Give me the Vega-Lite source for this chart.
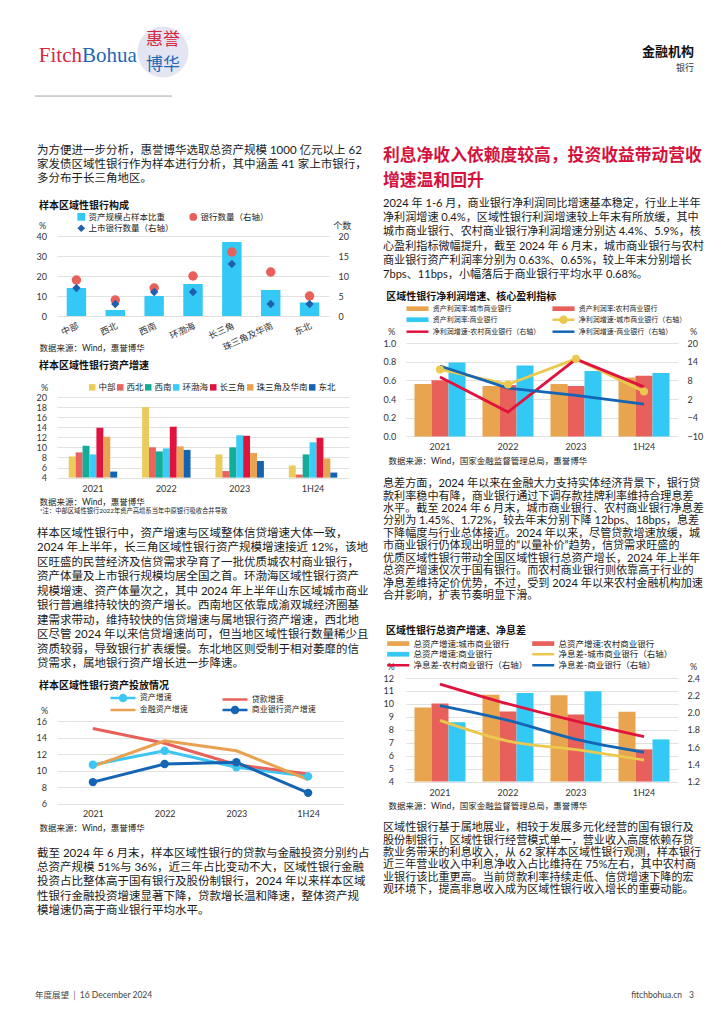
{
"$schema": "https://vega.github.io/schema/vega-lite/v6.json",
"background": "#ffffff",
"padding": {"left": 34, "top": 0, "right": 0, "bottom": 0},
"spacing": 0,
"resolve": {"scale": {"color": "independent", "xOffset": "independent"}, "legend": {"color": "independent"}},
"config": {
  "font": "Lato, 'Noto Sans CJK SC', sans-serif",
  "view": {"stroke": null},
  "title": {"anchor": "start", "fontSize": 10, "fontWeight": "bold", "color": "#111111", "offset": 3, "dx": 3},
  "axis": {"labelFontSize": 9, "labelColor": "#333333", "domain": false, "ticks": false, "grid": false, "titleFontSize": 9, "titleFontWeight": "normal", "titleColor": "#333333"},
  "axisY": {"grid": true, "gridColor": "#D9D9D9", "gridWidth": 0.8},
  "legend": {"labelFontSize": 8, "labelColor": "#222222", "symbolStrokeWidth": 2.5, "labelOffset": 3, "padding": 0, "rowPadding": 2, "orient": "none"}
},
"vconcat": [
  {
    "width": 660, "height": 144,
    "layer": [
      {"data": {"values": [{"part": "line"}]}, "mark": {"type": "rule", "color": "#A6A6A6", "strokeWidth": 1},
       "encoding": {"x": {"datum": -3.33, "scale": {"domain": [0, 100]}, "axis": null}, "x2": {"datum": 17.42}, "y": {"datum": 66.7, "scale": {"domain": [0, 100], "reverse": true}, "axis": null}}},
      {"data": {"values": [{"part": "seal"}]}, "mark": {"type": "point", "filled": true, "size": 2600, "color": "#E3E6F2", "opacity": 1},
       "encoding": {"x": {"datum": 16.06, "scale": {"domain": [0, 100]}, "axis": null}, "y": {"datum": 36.1, "scale": {"domain": [0, 100], "reverse": true}, "axis": null}}},
      {"data": {"values": [{"t": "Fitch"}]}, "mark": {"type": "text", "align": "right", "baseline": "alphabetic", "font": "Liberation Serif", "fontSize": 21, "color": "#D7263D"},
       "encoding": {"x": {"datum": 3.79, "scale": {"domain": [0, 100]}, "axis": null}, "y": {"datum": 43.06, "scale": {"domain": [0, 100], "reverse": true}, "axis": null}, "text": {"field": "t"}}},
      {"data": {"values": [{"t": "Bohua"}]}, "mark": {"type": "text", "align": "left", "baseline": "alphabetic", "font": "Liberation Serif", "fontSize": 21, "color": "#2368B5"},
       "encoding": {"x": {"datum": 3.79, "scale": {"domain": [0, 100]}, "axis": null}, "y": {"datum": 43.06, "scale": {"domain": [0, 100], "reverse": true}, "axis": null}, "text": {"field": "t"}}},
      {"data": {"values": [{"t": "惠誉"}]}, "mark": {"type": "text", "align": "center", "baseline": "middle", "font": "Noto Sans CJK SC", "fontSize": 17, "color": "#D7263D"},
       "encoding": {"x": {"datum": 16.06, "scale": {"domain": [0, 100]}, "axis": null}, "y": {"datum": 27.5, "scale": {"domain": [0, 100], "reverse": true}, "axis": null}, "text": {"field": "t"}}},
      {"data": {"values": [{"t": "博华"}]}, "mark": {"type": "text", "align": "center", "baseline": "middle", "font": "Noto Sans CJK SC", "fontSize": 17, "color": "#2368B5"},
       "encoding": {"x": {"datum": 16.06, "scale": {"domain": [0, 100]}, "axis": null}, "y": {"datum": 44.8, "scale": {"domain": [0, 100], "reverse": true}, "axis": null}, "text": {"field": "t"}}},
      {"data": {"values": [{"t": "金融机构"}]}, "mark": {"type": "text", "align": "right", "baseline": "middle", "font": "Noto Sans CJK SC", "fontSize": 13, "fontWeight": "bold", "color": "#111111"},
       "encoding": {"x": {"datum": 96.5, "scale": {"domain": [0, 100]}, "axis": null}, "y": {"datum": 36.1, "scale": {"domain": [0, 100], "reverse": true}, "axis": null}, "text": {"field": "t"}}},
      {"data": {"values": [{"t": "银行"}]}, "mark": {"type": "text", "align": "right", "baseline": "middle", "font": "Noto Sans CJK SC", "fontSize": 9, "color": "#333333"},
       "encoding": {"x": {"datum": 96.5, "scale": {"domain": [0, 100]}, "axis": null}, "y": {"datum": 47.2, "scale": {"domain": [0, 100], "reverse": true}, "axis": null}, "text": {"field": "t"}}}
    ]
  },
  {
    "spacing": 12,
    "resolve": {"scale": {"color": "independent", "xOffset": "independent"}, "legend": {"color": "independent"}},
    "hconcat": [
      {
        "spacing": 0,
        "resolve": {"scale": {"color": "independent", "xOffset": "independent"}, "legend": {"color": "independent"}},
        "vconcat": [
          {
            "width": 305, "height": 57,
            "data": {"values": [{"text": "为方便进一步分析，惠誉博华选取总资产规模 1000 亿元以上 62\n家发债区域性银行作为样本进行分析，其中涵盖 41 家上市银行，\n多分布于长三角地区。"}]},
            "mark": {"type": "text", "align": "left", "baseline": "line-top", "lineBreak": "\n", "lineHeight": 14, "fontSize": 11.5, "color": "#1a1a1a"},
            "encoding": {"x": {"datum": -0.0656, "scale": {"domain": [0, 1]}, "axis": null}, "y": {"datum": 0, "scale": {"domain": [0, 57], "reverse": true}, "axis": null}, "text": {"field": "text"}}
          },
          {
            "width": 272, "height": 80,
            "title": {"text": "样本区域性银行构成", "offset": 1.5},
            "data": {"values": [
              {"region": "中部", "share": 14, "banks": 9, "listed": 7},
              {"region": "西北", "share": 3, "banks": 4, "listed": 3},
              {"region": "西南", "share": 10, "banks": 7, "listed": 6},
              {"region": "环渤海", "share": 16, "banks": 10, "listed": 6},
              {"region": "长三角", "share": 37, "banks": 16, "listed": 13},
              {"region": "珠三角及华南", "share": 13, "banks": 11, "listed": 3},
              {"region": "东北", "share": 6.8, "banks": 5, "listed": 3}
            ]},
            "encoding": {"x": {"field": "region", "type": "nominal", "sort": null, "scale": {"paddingInner": 0.5, "paddingOuter": 0.25}, "axis": {"labelAngle": -25, "labelAlign": "right", "labelBaseline": "top", "labelPadding": 5, "title": "数据来源：Wind，惠誉博华", "titleX": -18, "titleY": 31, "titleAlign": "left", "titleBaseline": "middle", "titleFontSize": 8.5, "titleColor": "#222222"}}},
            "layer": [
              {"mark": {"type": "bar"},
               "encoding": {
                 "y": {"field": "share", "type": "quantitative", "scale": {"domain": [0, 40]}, "axis": {"values": [0, 10, 20, 30, 40], "title": "%", "titleAngle": 0, "titleAlign": "center", "titleBaseline": "middle", "titleX": -15, "titleY": -11, "labelPadding": 10.6}},
                 "color": {"datum": "资产规模占样本比重", "scale": {"domain": ["资产规模占样本比重", "银行数量（右轴）", "上市银行数量（右轴）"], "range": ["#34C8F5", "#E8605A", "#1F5FAD"]},
                   "legend": {"title": null, "orient": "none", "legendX": 20, "legendY": -23.5, "columns": 2, "direction": "horizontal", "symbolSize": 60, "symbolStrokeWidth": 0, "labelFontSize": 8.5, "columnPadding": 15, "rowPadding": 2.5,
                     "symbolType": {"expr": "datum.value === '资产规模占样本比重' ? 'square' : (datum.value === '银行数量（右轴）' ? 'circle' : 'diamond')"}}}
               }},
              {"mark": {"type": "point", "shape": "circle", "filled": true, "size": 90, "opacity": 1},
               "encoding": {
                 "y": {"field": "banks", "type": "quantitative", "scale": {"domain": [0, 20]}, "axis": {"orient": "right", "values": [0, 5, 10, 15, 20], "grid": false, "title": "个数", "titleAngle": 0, "titleAlign": "center", "titleBaseline": "middle", "titleX": 12.7, "titleY": -11, "labelPadding": 9}},
                 "color": {"datum": "银行数量（右轴）"}
               }},
              {"mark": {"type": "point", "shape": "diamond", "filled": true, "size": 70, "opacity": 1},
               "encoding": {
                 "y": {"field": "listed", "type": "quantitative", "scale": {"domain": [0, 20]}, "axis": null},
                 "color": {"datum": "上市银行数量（右轴）"}
               }}
            ],
            "resolve": {"scale": {"y": "independent"}}
          },
          {
            "width": 305, "height": 9,
            "data": {"values": [{"text": ""}]},
            "mark": {"type": "text", "align": "left", "baseline": "middle", "fontSize": 8.5, "color": "#222222"},
            "encoding": {"x": {"datum": 0, "scale": {"domain": [0, 1]}, "axis": null}, "y": {"datum": 4, "scale": {"domain": [0, 9], "reverse": true}, "axis": null}, "text": {"field": "text"}}
          },
          {
            "width": 292, "height": 80.6,
            "title": {"text": "样本区域性银行资产增速", "offset": 11.7},
            "data": {"values": [
              {"period": "2021", "region": "中部", "growth": 8.2},
              {"period": "2021", "region": "西北", "growth": 9.0},
              {"period": "2021", "region": "西南", "growth": 10.3},
              {"period": "2021", "region": "环渤海", "growth": 8.6},
              {"period": "2021", "region": "长三角", "growth": 13.9},
              {"period": "2021", "region": "珠三角及华南", "growth": 12.1},
              {"period": "2021", "region": "东北", "growth": 5.2},
              {"period": "2022", "region": "中部", "growth": 18.0},
              {"period": "2022", "region": "西北", "growth": 10.0},
              {"period": "2022", "region": "西南", "growth": 9.2},
              {"period": "2022", "region": "环渤海", "growth": 9.8},
              {"period": "2022", "region": "长三角", "growth": 14.1},
              {"period": "2022", "region": "珠三角及华南", "growth": 10.2},
              {"period": "2022", "region": "东北", "growth": 9.5},
              {"period": "2023", "region": "中部", "growth": 8.6},
              {"period": "2023", "region": "西北", "growth": 5.3},
              {"period": "2023", "region": "西南", "growth": 10.0},
              {"period": "2023", "region": "环渤海", "growth": 12.4},
              {"period": "2023", "region": "长三角", "growth": 12.3},
              {"period": "2023", "region": "珠三角及华南", "growth": 8.9},
              {"period": "2023", "region": "东北", "growth": 7.3},
              {"period": "1H24", "region": "中部", "growth": 6.4},
              {"period": "1H24", "region": "西北", "growth": 4.6},
              {"period": "1H24", "region": "西南", "growth": 8.6},
              {"period": "1H24", "region": "环渤海", "growth": 11.0},
              {"period": "1H24", "region": "长三角", "growth": 11.9},
              {"period": "1H24", "region": "珠三角及华南", "growth": 7.8},
              {"period": "1H24", "region": "东北", "growth": 5.0}
            ]},
            "mark": {"type": "bar"},
            "encoding": {
              "x": {"field": "period", "type": "nominal", "sort": null, "scale": {"paddingInner": 0.34, "paddingOuter": 0.16}, "axis": {"labelAngle": 0, "labelPadding": 7, "title": "数据来源：Wind，惠誉博华", "titleX": -18, "titleY": 23.4, "titleAlign": "left", "titleBaseline": "middle", "titleFontSize": 8.5, "titleColor": "#222222"}},
              "xOffset": {"field": "region", "type": "nominal", "sort": ["中部", "西北", "西南", "环渤海", "长三角", "珠三角及华南", "东北"]},
              "y": {"field": "growth", "type": "quantitative", "scale": {"domain": [4, 20]}, "axis": {"values": [4, 6, 8, 10, 12, 14, 16, 18, 20], "title": "%", "titleAngle": 0, "titleAlign": "center", "titleBaseline": "middle", "titleX": -13, "titleY": -9.4, "labelPadding": 10.6}},
              "y2": {"datum": 4},
              "color": {"field": "region", "type": "nominal", "sort": ["中部", "西北", "西南", "环渤海", "长三角", "珠三角及华南", "东北"],
                "scale": {"domain": ["中部", "西北", "西南", "环渤海", "长三角", "珠三角及华南", "东北"], "range": ["#EACB5C", "#E8645C", "#12AC98", "#38CCF7", "#E0133F", "#E8A452", "#1462B0"]},
                "legend": {"title": null, "orient": "none", "legendX": 31, "legendY": -14, "direction": "horizontal", "columns": 7, "symbolType": "square", "symbolSize": 42, "symbolStrokeWidth": 0, "labelFontSize": 8.5, "columnPadding": 0, "labelOffset": 2}}
            }
          },
          {
            "width": 305, "height": 19.5,
            "data": {"values": [{"text": "*注：中部区域性银行2022年资产高增系当年中原银行吸收合并导致"}]},
            "mark": {"type": "text", "align": "left", "baseline": "middle", "fontSize": 6.3, "color": "#222222"},
            "encoding": {"x": {"datum": -0.056, "scale": {"domain": [0, 1]}, "axis": null}, "y": {"datum": 5, "scale": {"domain": [0, 19.5], "reverse": true}, "axis": null}, "text": {"field": "text"}}
          },
          {
            "width": 305, "height": 154,
            "data": {"values": [{"text": "样本区域性银行中，资产增速与区域整体信贷增速大体一致，\n2024 年上半年，长三角区域性银行资产规模增速接近 12%，该地\n区旺盛的民营经济及信贷需求孕育了一批优质城农村商业银行，\n资产体量及上市银行规模均居全国之首。环渤海区域性银行资产\n规模增速、资产体量次之，其中 2024 年上半年山东区域城市商业\n银行普遍维持较快的资产增长。西南地区依靠成渝双城经济圈基\n建需求带动，维持较快的信贷增速与属地银行资产增速，西北地\n区尽管 2024 年以来信贷增速尚可，但当地区域性银行数量稀少且\n资质较弱，导致银行扩表缓慢。东北地区则受制于相对萎靡的信\n贷需求，属地银行资产增长进一步降速。"}]},
            "mark": {"type": "text", "align": "left", "baseline": "line-top", "lineBreak": "\n", "lineHeight": 14.45, "fontSize": 11.5, "color": "#1a1a1a"},
            "encoding": {"x": {"datum": -0.0656, "scale": {"domain": [0, 1]}, "axis": null}, "y": {"datum": 0, "scale": {"domain": [0, 154], "reverse": true}, "axis": null}, "text": {"field": "text"}}
          },
          {
            "width": 287, "height": 82.6,
            "title": {"text": "样本区域性银行资产投放情况", "offset": 3.4},
            "data": {"values": [
              {"period": "2021", "series": "资产增速", "value": 10.7},
              {"period": "2022", "series": "资产增速", "value": 12.4},
              {"period": "2023", "series": "资产增速", "value": 10.4},
              {"period": "1H24", "series": "资产增速", "value": 9.3},
              {"period": "2021", "series": "贷款增速", "value": 15.1},
              {"period": "2022", "series": "贷款增速", "value": 13.3},
              {"period": "2023", "series": "贷款增速", "value": 10.7},
              {"period": "1H24", "series": "贷款增速", "value": 9.6},
              {"period": "2021", "series": "金融资产增速", "value": 10.5},
              {"period": "2022", "series": "金融资产增速", "value": 13.6},
              {"period": "2023", "series": "金融资产增速", "value": 12.4},
              {"period": "1H24", "series": "金融资产增速", "value": 8.9},
              {"period": "2021", "series": "商业银行资产增速", "value": 8.6},
              {"period": "2022", "series": "商业银行资产增速", "value": 10.8},
              {"period": "2023", "series": "商业银行资产增速", "value": 11.0},
              {"period": "1H24", "series": "商业银行资产增速", "value": 7.3}
            ]},
            "encoding": {
              "x": {"field": "period", "type": "ordinal", "sort": null, "scale": {"type": "point", "padding": 0.5}, "axis": {"labelAngle": 0, "labelPadding": 6, "title": "数据来源：Wind，惠誉博华", "titleX": -18, "titleY": 23.4, "titleAlign": "left", "titleBaseline": "middle", "titleFontSize": 8.5, "titleColor": "#222222"}},
              "y": {"field": "value", "type": "quantitative", "scale": {"domain": [6, 16]}, "axis": {"values": [6, 8, 10, 12, 14, 16], "title": "%", "titleAngle": 0, "titleAlign": "center", "titleBaseline": "middle", "titleX": -13, "titleY": -10.7, "labelPadding": 10.6}},
              "color": {"field": "series", "type": "nominal", "sort": ["资产增速", "贷款增速", "金融资产增速", "商业银行资产增速"],
                "scale": {"domain": ["资产增速", "贷款增速", "金融资产增速", "商业银行资产增速"], "range": ["#3EC6F2", "#E8605A", "#E8A24F", "#1565B5"]},
                "legend": {"title": null, "orient": "none", "legendX": 62, "legendY": -27, "columns": 2, "direction": "horizontal", "symbolSize": 16, "labelOffset": 12.75, "columnPadding": 29, "rowPadding": -7,
                  "symbolType": {"expr": "(datum.value === '资产增速' || datum.value === '商业银行资产增速') ? 'M-6.25,0H6.25M-1.5,0A1.5,1.5,0,1,0,1.5,0A1.5,1.5,0,1,0,-1.5,0Z' : 'M-6.25,0H6.25'"}}}
            },
            "layer": [
              {"mark": {"type": "line", "strokeWidth": 3}},
              {"transform": [{"filter": "datum.series === '资产增速' || datum.series === '商业银行资产增速'"}],
               "mark": {"type": "point", "filled": true, "size": 70, "opacity": 1}}
            ]
          },
          {
            "width": 305, "height": 153,
            "data": {"values": [{"text": "截至 2024 年 6 月末，样本区域性银行的贷款与金融投资分别约占\n总资产规模 51%与 36%，近三年占比变动不大，区域性银行金融\n投资占比整体高于国有银行及股份制银行，2024 年以来样本区域\n性银行金融投资增速显著下降，贷款增长温和降速，整体资产规\n模增速仍高于商业银行平均水平。"}]},
            "mark": {"type": "text", "align": "left", "baseline": "line-top", "lineBreak": "\n", "lineHeight": 14.4, "fontSize": 11.5, "color": "#1a1a1a"},
            "encoding": {"x": {"datum": -0.0656, "scale": {"domain": [0, 1]}, "axis": null}, "y": {"datum": 13.5, "scale": {"domain": [0, 153], "reverse": true}, "axis": null}, "text": {"field": "text"}}
          }
        ]
      },
      {
        "spacing": 0,
        "resolve": {"scale": {"color": "independent", "xOffset": "independent"}, "legend": {"color": "independent"}},
        "vconcat": [
          {
            "width": 305, "height": 52.2,
            "data": {"values": [{"text": "利息净收入依赖度较高，投资收益带动营收\n增速温和回升"}]},
            "mark": {"type": "text", "align": "left", "baseline": "line-top", "lineBreak": "\n", "lineHeight": 25, "fontSize": 16.8, "fontWeight": "bold", "color": "#D4123C"},
            "encoding": {"x": {"datum": -0.0754, "scale": {"domain": [0, 1]}, "axis": null}, "y": {"datum": 0, "scale": {"domain": [0, 52.2], "reverse": true}, "axis": null}, "text": {"field": "text"}}
          },
          {
            "width": 305, "height": 94.5,
            "data": {"values": [{"text": "2024 年 1-6 月，商业银行净利润同比增速基本稳定，行业上半年\n净利润增速 0.4%，区域性银行利润增速较上年末有所放缓，其中\n城市商业银行、农村商业银行净利润增速分别达 4.4%、5.9%，核\n心盈利指标微幅提升，截至 2024 年 6 月末，城市商业银行与农村\n商业银行资产利润率分别为 0.63%、0.65%，较上年末分别增长\n7bps、11bps，小幅落后于商业银行平均水平 0.68%。"}]},
            "mark": {"type": "text", "align": "left", "baseline": "line-top", "lineBreak": "\n", "lineHeight": 14.2, "fontSize": 11.1, "color": "#1a1a1a"},
            "encoding": {"x": {"datum": -0.0754, "scale": {"domain": [0, 1]}, "axis": null}, "y": {"datum": 0, "scale": {"domain": [0, 94.5], "reverse": true}, "axis": null}, "text": {"field": "text"}}
          },
          {
            "width": 272, "height": 93.4,
            "title": {"text": "区域性银行净利润增速、核心盈利指标", "offset": 2.6},
            "encoding": {"x": {"field": "period", "type": "nominal", "sort": ["2021", "2022", "2023", "1H24"], "scale": {"paddingInner": 0.25, "paddingOuter": 0.125}, "axis": {"labelAngle": 0, "labelPadding": 6.5, "title": "数据来源：Wind，国家金融监督管理总局，惠誉博华", "titleX": -18, "titleY": 24, "titleAlign": "left", "titleBaseline": "middle", "titleFontSize": 8.5, "titleColor": "#222222"}}},
            "layer": [
              {
                "data": {"values": [
                  {"period": "2021", "series": "资产利润率:城市商业银行", "value": 0.56},
                  {"period": "2022", "series": "资产利润率:城市商业银行", "value": 0.54},
                  {"period": "2023", "series": "资产利润率:城市商业银行", "value": 0.56},
                  {"period": "1H24", "series": "资产利润率:城市商业银行", "value": 0.63},
                  {"period": "2021", "series": "资产利润率:农村商业银行", "value": 0.60},
                  {"period": "2022", "series": "资产利润率:农村商业银行", "value": 0.55},
                  {"period": "2023", "series": "资产利润率:农村商业银行", "value": 0.54},
                  {"period": "1H24", "series": "资产利润率:农村商业银行", "value": 0.65},
                  {"period": "2021", "series": "资产利润率:商业银行", "value": 0.79},
                  {"period": "2022", "series": "资产利润率:商业银行", "value": 0.76},
                  {"period": "2023", "series": "资产利润率:商业银行", "value": 0.70},
                  {"period": "1H24", "series": "资产利润率:商业银行", "value": 0.68}
                ]},
                "mark": {"type": "bar"},
                "encoding": {
                  "xOffset": {"field": "series", "type": "nominal", "sort": ["资产利润率:城市商业银行", "资产利润率:农村商业银行", "资产利润率:商业银行"]},
                  "y": {"field": "value", "type": "quantitative", "scale": {"domain": [0, 1]}, "axis": {"values": [0, 0.2, 0.4, 0.6, 0.8, 1.0], "format": ".1f", "title": "%", "titleAngle": 0, "titleAlign": "center", "titleBaseline": "middle", "titleX": -15, "titleY": -11.3, "labelPadding": 10.3}},
                  "color": {"field": "series", "type": "nominal",
                    "scale": {"domain": ["资产利润率:城市商业银行", "资产利润率:农村商业银行", "资产利润率:商业银行", "净利润增速-城市商业银行（右轴）", "净利润增速-农村商业银行（右轴）", "净利润增速-商业银行（右轴）"], "range": ["#E8A44E", "#E8605A", "#34C8F5", "#EBC94F", "#E0133F", "#1565B5"]},
                    "legend": {"title": null, "orient": "none", "legendX": 8, "legendY": -38, "columns": 2, "direction": "horizontal", "symbolSize": 16, "labelFontSize": 7, "labelOffset": 11.75, "columnPadding": 6, "rowPadding": -3.8,
                      "symbolType": {"expr": "indexof(datum.value, '右轴') < 0 ? 'M-4.9,-0.55H4.9V0.55H-4.9Z' : (datum.value === '净利润增速-城市商业银行（右轴）' ? 'M-5.5,0H5.5M-1.5,0A1.5,1.5,0,1,0,1.5,0A1.5,1.5,0,1,0,-1.5,0Z' : 'M-5.5,0H5.5')"}}}
                }
              },
              {
                "data": {"values": [
                  {"period": "2021", "series": "净利润增速-城市商业银行（右轴）", "value": 11.5},
                  {"period": "2022", "series": "净利润增速-城市商业银行（右轴）", "value": 6.7},
                  {"period": "2023", "series": "净利润增速-城市商业银行（右轴）", "value": 14.9},
                  {"period": "1H24", "series": "净利润增速-城市商业银行（右轴）", "value": 4.4},
                  {"period": "2021", "series": "净利润增速-农村商业银行（右轴）", "value": 9.1},
                  {"period": "2022", "series": "净利润增速-农村商业银行（右轴）", "value": -2.2},
                  {"period": "2023", "series": "净利润增速-农村商业银行（右轴）", "value": 14.8},
                  {"period": "1H24", "series": "净利润增速-农村商业银行（右轴）", "value": 5.9},
                  {"period": "2021", "series": "净利润增速-商业银行（右轴）", "value": 12.6},
                  {"period": "2022", "series": "净利润增速-商业银行（右轴）", "value": 5.5},
                  {"period": "2023", "series": "净利润增速-商业银行（右轴）", "value": 3.2},
                  {"period": "1H24", "series": "净利润增速-商业银行（右轴）", "value": 0.4}
                ]},
                "encoding": {
                  "y": {"field": "value", "type": "quantitative", "scale": {"domain": [-10, 20]}, "axis": {"orient": "right", "values": [-10, -4, 2, 8, 14, 20], "grid": false, "title": "%", "titleAngle": 0, "titleAlign": "center", "titleBaseline": "middle", "titleX": 15, "titleY": -11.3, "labelPadding": 9}},
                  "color": {"field": "series", "type": "nominal"}
                },
                "layer": [
                  {"mark": {"type": "line", "strokeWidth": 2.8}},
                  {"transform": [{"filter": "datum.series === '净利润增速-城市商业银行（右轴）'"}],
                   "mark": {"type": "point", "filled": true, "size": 65, "opacity": 1}}
                ]
              }
            ],
            "resolve": {"scale": {"y": "independent"}}
          },
          {
            "width": 305, "height": 160.3,
            "data": {"values": [{"text": "息差方面，2024 年以来在金融大力支持实体经济背景下，银行贷\n款利率稳中有降，商业银行通过下调存款挂牌利率维持合理息差\n水平。截至 2024 年 6 月末，城市商业银行、农村商业银行净息差\n分别为 1.45%、1.72%，较去年末分别下降 12bps、18bps，息差\n下降幅度与行业总体接近。2024 年以来，尽管贷款增速放缓，城\n市商业银行仍体现出明显的“以量补价”趋势，信贷需求旺盛的\n优质区域性银行带动全国区域性银行总资产增长，2024 年上半年\n总资产增速仅次于国有银行。而农村商业银行则依靠高于行业的\n净息差维持定价优势，不过，受到 2024 年以来农村金融机构加速\n合并影响，扩表节奏明显下滑。"}]},
            "mark": {"type": "text", "align": "left", "baseline": "line-top", "lineBreak": "\n", "lineHeight": 12.43, "fontSize": 11.1, "color": "#1a1a1a"},
            "encoding": {"x": {"datum": -0.0754, "scale": {"domain": [0, 1]}, "axis": null}, "y": {"datum": 13.1, "scale": {"domain": [0, 160.3], "reverse": true}, "axis": null}, "text": {"field": "text"}}
          },
          {
            "width": 272, "height": 103.6,
            "title": {"text": "区域性银行总资产增速、净息差", "offset": 2.7},
            "encoding": {"x": {"field": "period", "type": "nominal", "sort": ["2021", "2022", "2023", "1H24"], "scale": {"paddingInner": 0.25, "paddingOuter": 0.125}, "axis": {"labelAngle": 0, "labelPadding": 7, "title": "数据来源：Wind，国家金融监督管理总局，惠誉博华", "titleX": -18, "titleY": 23.4, "titleAlign": "left", "titleBaseline": "middle", "titleFontSize": 8.5, "titleColor": "#222222"}}},
            "layer": [
              {
                "data": {"values": [
                  {"period": "2021", "series": "总资产增速:城市商业银行", "value": 9.73},
                  {"period": "2022", "series": "总资产增速:城市商业银行", "value": 10.71},
                  {"period": "2023", "series": "总资产增速:城市商业银行", "value": 10.66},
                  {"period": "1H24", "series": "总资产增速:城市商业银行", "value": 9.40},
                  {"period": "2021", "series": "总资产增速:农村商业银行", "value": 10.04},
                  {"period": "2022", "series": "总资产增速:农村商业银行", "value": 9.42},
                  {"period": "2023", "series": "总资产增速:农村商业银行", "value": 9.19},
                  {"period": "1H24", "series": "总资产增速:农村商业银行", "value": 6.49},
                  {"period": "2021", "series": "总资产增速:商业银行", "value": 8.58},
                  {"period": "2022", "series": "总资产增速:商业银行", "value": 10.84},
                  {"period": "2023", "series": "总资产增速:商业银行", "value": 10.97},
                  {"period": "1H24", "series": "总资产增速:商业银行", "value": 7.26}
                ]},
                "mark": {"type": "bar"},
                "encoding": {
                  "xOffset": {"field": "series", "type": "nominal", "sort": ["总资产增速:城市商业银行", "总资产增速:农村商业银行", "总资产增速:商业银行"]},
                  "y": {"field": "value", "type": "quantitative", "scale": {"domain": [4, 12]}, "axis": {"values": [4, 5, 6, 7, 8, 9, 10, 11, 12], "title": "%", "titleAngle": 0, "titleAlign": "center", "titleBaseline": "middle", "titleX": -15.5, "titleY": -11.7, "labelPadding": 12.6}},
                  "y2": {"datum": 4},
                  "color": {"field": "series", "type": "nominal",
                    "scale": {"domain": ["总资产增速:城市商业银行", "总资产增速:农村商业银行", "总资产增速:商业银行", "净息差-城市商业银行（右轴）", "净息差-农村商业银行（右轴）", "净息差-商业银行（右轴）"], "range": ["#E8A44E", "#E8605A", "#34C8F5", "#EBC94F", "#E0133F", "#1565B5"]},
                    "legend": {"title": null, "orient": "none", "legendX": -12, "legendY": -39, "columns": 2, "direction": "horizontal", "symbolSize": 16, "labelFontSize": 8.5, "labelOffset": 11, "columnPadding": -1, "rowPadding": -3,
                      "symbolType": {"expr": "indexof(datum.value, '右轴') < 0 ? 'M-4.9,-0.55H4.9V0.55H-4.9Z' : 'M-5.5,0H5.5'"}}}
                }
              },
              {
                "data": {"values": [
                  {"period": "2021", "series": "净息差-城市商业银行（右轴）", "value": 1.91},
                  {"period": "2022", "series": "净息差-城市商业银行（右轴）", "value": 1.67},
                  {"period": "2023", "series": "净息差-城市商业银行（右轴）", "value": 1.57},
                  {"period": "1H24", "series": "净息差-城市商业银行（右轴）", "value": 1.45},
                  {"period": "2021", "series": "净息差-农村商业银行（右轴）", "value": 2.33},
                  {"period": "2022", "series": "净息差-农村商业银行（右轴）", "value": 2.10},
                  {"period": "2023", "series": "净息差-农村商业银行（右轴）", "value": 1.90},
                  {"period": "1H24", "series": "净息差-农村商业银行（右轴）", "value": 1.72},
                  {"period": "2021", "series": "净息差-商业银行（右轴）", "value": 2.08},
                  {"period": "2022", "series": "净息差-商业银行（右轴）", "value": 1.91},
                  {"period": "2023", "series": "净息差-商业银行（右轴）", "value": 1.69},
                  {"period": "1H24", "series": "净息差-商业银行（右轴）", "value": 1.54}
                ]},
                "mark": {"type": "line", "strokeWidth": 2.8, "interpolate": "monotone"},
                "encoding": {
                  "y": {"field": "value", "type": "quantitative", "scale": {"domain": [1.2, 2.4]}, "axis": {"orient": "right", "values": [1.2, 1.4, 1.6, 1.8, 2.0, 2.2, 2.4], "format": ".1f", "grid": false, "title": "%", "titleAngle": 0, "titleAlign": "center", "titleBaseline": "middle", "titleX": 15, "titleY": -11.7, "labelPadding": 9}},
                  "color": {"field": "series", "type": "nominal"}
                }
              }
            ],
            "resolve": {"scale": {"y": "independent"}}
          },
          {
            "width": 305, "height": 172.3,
            "data": {"values": [{"text": "区域性银行基于属地展业，相较于发展多元化经营的国有银行及\n股份制银行，区域性银行经营模式单一，营业收入高度依赖存贷\n款业务带来的利息收入，从 62 家样本区域性银行观测，样本银行\n近三年营业收入中利息净收入占比维持在 75%左右，其中农村商\n业银行该比重更高。当前贷款利率持续走低、信贷增速下降的宏\n观环境下，提高非息收入成为区域性银行收入增长的重要动能。"}]},
            "mark": {"type": "text", "align": "left", "baseline": "line-top", "lineBreak": "\n", "lineHeight": 12.45, "fontSize": 11.1, "color": "#1a1a1a"},
            "encoding": {"x": {"datum": -0.0754, "scale": {"domain": [0, 1]}, "axis": null}, "y": {"datum": 12.1, "scale": {"domain": [0, 172.3], "reverse": true}, "axis": null}, "text": {"field": "text"}}
          }
        ]
      }
    ]
  },
  {
    "width": 660, "height": 20,
    "layer": [
      {"data": {"values": [{"t": "年度展望 │ 16 December 2024"}]}, "mark": {"type": "text", "align": "left", "baseline": "middle", "fontSize": 8.5, "color": "#444444"},
       "encoding": {"x": {"datum": -3.33, "scale": {"domain": [0, 100]}, "axis": null}, "y": {"datum": 50, "scale": {"domain": [0, 100]}, "axis": null}, "text": {"field": "t"}}},
      {"data": {"values": [{"t": "fitchbohua.cn"}]}, "mark": {"type": "text", "align": "right", "baseline": "middle", "fontSize": 8.5, "color": "#444444"},
       "encoding": {"x": {"datum": 94.7, "scale": {"domain": [0, 100]}, "axis": null}, "y": {"datum": 50, "scale": {"domain": [0, 100]}, "axis": null}, "text": {"field": "t"}}},
      {"data": {"values": [{"t": "3"}]}, "mark": {"type": "text", "align": "right", "baseline": "middle", "fontSize": 8.5, "color": "#444444"},
       "encoding": {"x": {"datum": 96.5, "scale": {"domain": [0, 100]}, "axis": null}, "y": {"datum": 50, "scale": {"domain": [0, 100]}, "axis": null}, "text": {"field": "t"}}}
    ]
  }
]
}
